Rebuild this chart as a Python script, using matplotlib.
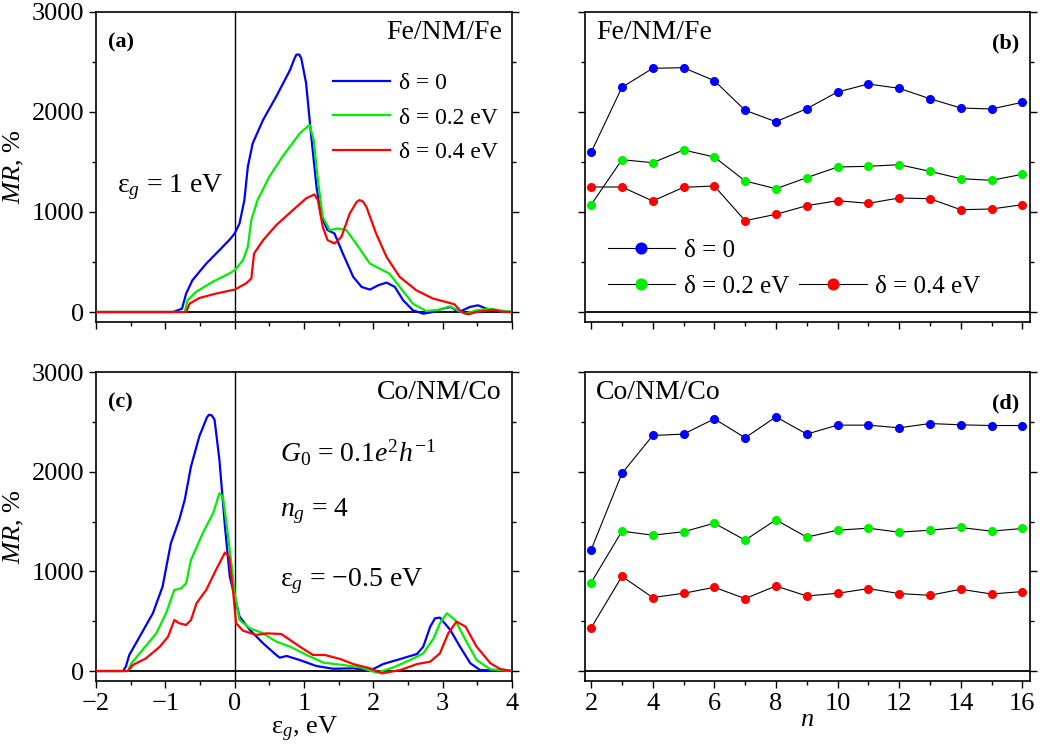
import numpy as np
import matplotlib
matplotlib.use("Agg")
import matplotlib.pyplot as plt
from matplotlib.lines import Line2D

plt.rcParams['font.family'] = ['Liberation Serif', 'DejaVu Serif']
plt.rcParams['mathtext.fontset'] = 'custom'
plt.rcParams['mathtext.rm'] = 'Liberation Serif'
plt.rcParams['mathtext.it'] = 'Liberation Serif:italic'

BLUE, GREEN, RED = '#0000ff', '#00ee00', '#ff0000'
labels = ['δ = 0', 'δ = 0.2 eV', 'δ = 0.4 eV']

# ---- (a) Fe/NM/Fe, MR vs eps_g ----
a_blue_x = [-2, -0.89, -0.76, -0.70, -0.61, -0.41, -0.22, -0.08, 0, 0.07, 0.14, 0.19, 0.26, 0.41, 0.60,
            0.80, 0.86, 0.89, 0.93, 0.96, 1.03, 1.10, 1.18, 1.25, 1.34, 1.44, 1.56, 1.71, 1.83, 1.95, 2.07, 2.19,
            2.31, 2.43, 2.57, 2.72, 2.86, 3.0, 3.12, 3.22, 3.29, 3.39, 3.51, 3.63, 3.78, 4]
a_blue_y = [0, 0, 33, 184, 317, 484, 618, 718, 785, 885, 1119, 1453, 1687, 1921, 2155,
            2422, 2530, 2573, 2575, 2539, 2289, 1787, 1253, 952, 819, 785, 585, 351, 251, 224, 267, 294,
            251, 117, 17, -17, 0, 33, 50, 0, 17, 50, 67, 33, 10, 0]
a_green_x = [-2, -0.72, -0.68, -0.56, -0.32, -0.08, 0, 0.12, 0.19, 0.24, 0.33, 0.50, 0.69, 0.94, 1.08,
             1.14, 1.20, 1.27, 1.37, 1.49, 1.61, 1.75, 1.95, 2.09, 2.23, 2.38, 2.57, 2.76, 2.96, 3.10,
             3.22, 3.32, 3.49, 3.68, 3.82, 4]
a_green_y = [0, 0, 117, 200, 301, 384, 418, 518, 652, 919, 1119, 1353, 1554, 1787, 1871,
             1721, 1320, 952, 819, 835, 819, 685, 484, 434, 384, 251, 84, 10, 23, 57,
             17, -17, 17, 33, 17, 0]
a_red_x = [-2, -0.70, -0.65, -0.51, -0.27, 0, 0.16, 0.24, 0.28, 0.41, 0.60, 0.84, 1.03, 1.15, 1.20,
           1.27, 1.34, 1.44, 1.54, 1.66, 1.76, 1.80, 1.85, 1.90, 2.04, 2.19, 2.38, 2.62, 2.86, 3.05, 3.17, 3.27,
           3.37, 3.49, 3.73, 3.87, 4]
a_red_y = [0, 0, 84, 140, 184, 224, 284, 334, 585, 718, 869, 1019, 1136, 1176, 1119,
           852, 718, 685, 752, 986, 1100, 1119, 1105, 1052, 785, 551, 351, 217, 134, 100, 77, 0,
           -23, 0, 23, 0, 0]

# ---- (c) Co/NM/Co, MR vs eps_g ----
c_blue_x = [-2, -1.61, -1.57, -1.52, -1.37, -1.18, -1.04, -0.92, -0.80, -0.72, -0.63, -0.51, -0.40, -0.37, -0.33,
            -0.29, -0.22, -0.14, -0.07, 0, 0.07, 0.22, 0.41, 0.60, 0.65, 0.75, 0.94, 1.18, 1.42, 1.71, 1.95,
            2.02, 2.14, 2.39, 2.63, 2.72, 2.82, 2.89, 2.96, 3.11, 3.25, 3.40, 3.54, 4]
c_blue_y = [0, 0, 44, 161, 345, 579, 847, 1282, 1517, 1718, 2052, 2354, 2545, 2571, 2565,
            2521, 2119, 1450, 947, 747, 546, 412, 278, 161, 134, 151, 110, 50, 23, 27, 10,
            27, 70, 121, 171, 244, 445, 529, 536, 412, 244, 77, 10, 0]
c_green_x = [-2, -1.54, -1.49, -1.33, -1.13, -0.99, -0.87, -0.77, -0.70, -0.63, -0.46, -0.31, -0.22, -0.17,
             -0.10, -0.02, 0, 0.07, 0.22, 0.41, 0.60, 0.80, 1.04, 1.28, 1.57, 1.81, 2.05, 2.29, 2.53,
             2.72, 2.87, 2.96, 3.06, 3.18, 3.33, 3.49, 3.69, 4]
c_green_y = [0, 0, 77, 211, 378, 579, 814, 830, 880, 1115, 1383, 1584, 1784, 1751,
             1383, 914, 780, 512, 429, 378, 295, 244, 161, 84, 60, 37, -17, 37, 110,
             177, 328, 479, 579, 512, 311, 110, 17, 0]
c_red_x = [-2, -1.54, -1.47, -1.28, -1.08, -0.96, -0.87, -0.80, -0.70, -0.63, -0.55, -0.41, -0.27, -0.14,
           -0.08, -0.02, 0.02, 0.12, 0.31, 0.46, 0.67, 0.80, 0.94, 1.13, 1.30, 1.52, 1.71, 1.95, 2.12,
           2.39, 2.63, 2.82, 2.96, 3.08, 3.20, 3.33, 3.49, 3.69, 3.83, 4]
c_red_y = [0, 0, 60, 127, 244, 345, 512, 479, 462, 512, 680, 814, 1014, 1189,
           1148, 780, 479, 405, 362, 378, 372, 311, 244, 161, 161, 121, 70, 27, -23,
           10, 70, 94, 177, 378, 496, 445, 244, 77, 20, 0]

# ---- (b), (d) MR vs n ----
n = np.arange(2, 17)
b_blue = [1597, 2247, 2437, 2443, 2313, 2017, 1903, 2033, 2200, 2280, 2237, 2133, 2040, 2030, 2097]
b_green = [1073, 1523, 1493, 1620, 1550, 1310, 1233, 1343, 1450, 1457, 1473, 1407, 1333, 1317, 1377]
b_red = [1250, 1250, 1110, 1247, 1260, 913, 977, 1063, 1113, 1087, 1140, 1133, 1023, 1030, 1073]
d_blue = [1217, 1983, 2363, 2377, 2530, 2340, 2550, 2377, 2467, 2467, 2440, 2483, 2470, 2463, 2463]
d_green = [887, 1403, 1363, 1397, 1483, 1313, 1517, 1343, 1413, 1433, 1393, 1413, 1440, 1403, 1430]
d_red = [433, 950, 737, 780, 840, 727, 853, 753, 780, 827, 777, 760, 820, 773, 797]

fig = plt.figure(figsize=(10.47, 7.54), dpi=100)
W, H = 1047, 754
def box(l, r, t, b):
    return [l / W, 1 - b / H, (r - l) / W, (b - t) / H]

ax_a = fig.add_axes(box(96, 512, 12, 322))
ax_b = fig.add_axes(box(585, 1030, 12, 322))
ax_c = fig.add_axes(box(96, 512, 372, 681))
ax_d = fig.add_axes(box(585, 1030, 372, 681))

FS = 19

def style(ax, left):
    ax.set_ylim(-100, 3000)
    ax.set_yticks([0, 1000, 2000, 3000])
    ax.set_yticks([500, 1500, 2500], minor=True)
    ax.tick_params(which='both', direction='out', top=False, right=True, labelsize=FS, width=1)
    ax.tick_params(which='major', length=5)
    ax.tick_params(which='minor', length=3)
    ax.axhline(0, color='black', lw=1.3, zorder=1)
    if not left:
        ax.tick_params(labelleft=False)
    for s in ax.spines.values():
        s.set_linewidth(1.2)

for ax, curves in [(ax_a, [(a_blue_x, a_blue_y), (a_green_x, a_green_y), (a_red_x, a_red_y)]),
                   (ax_c, [(c_blue_x, c_blue_y), (c_green_x, c_green_y), (c_red_x, c_red_y)])]:
    style(ax, True)
    ax.axvline(0, color='black', lw=1.0, zorder=1)
    for (x, y), col, lab in zip(curves, [BLUE, GREEN, RED], labels):
        ax.plot(x, y, color=col, lw=1.6, label=lab, zorder=3, solid_joinstyle='round')
    ax.set_xlim(-2, 4)
    ax.set_xticks(range(-2, 5))
    ax.set_xticks(np.arange(-1.5, 4, 1), minor=True)
    ax.set_ylabel('$MR$, %', fontsize=FS, labelpad=4)

for ax, series in [(ax_b, [b_blue, b_green, b_red]), (ax_d, [d_blue, d_green, d_red])]:
    style(ax, False)
    for vals, col, lab in zip(series, [BLUE, GREEN, RED], labels):
        ax.plot(n, vals, color='black', lw=0.8, marker='o', ms=5.5, mfc=col, mec=col, label=lab, zorder=3)
    ax.set_xlim(1.8, 16.25)
    ax.set_xticks(range(2, 17, 2))
    ax.set_xticks(range(3, 17, 2), minor=True)

ax_a.tick_params(labelbottom=False)
ax_b.tick_params(labelbottom=False)
ax_c.set_xticklabels(['\u22122', '\u22121', '0', '1', '2', '3', '4'])
ax_c.set_xlabel('ε$_g$, eV', fontsize=FS, labelpad=0)
ax_d.set_xlabel('$n$', fontsize=FS, labelpad=-4)

# panel labels and annotations
for ax, t in [(ax_a, '(a)'), (ax_c, '(c)')]:
    ax.text(0.028, 0.935, t, transform=ax.transAxes, fontsize=16, fontweight='bold', va='top')
for ax, t in [(ax_b, '(b)'), (ax_d, '(d)')]:
    ax.text(0.975, 0.93, t, transform=ax.transAxes, fontsize=16, fontweight='bold', ha='right', va='top')
FS2 = 20
ax_a.text(0.975, 0.975, 'Fe/NM/Fe', transform=ax_a.transAxes, fontsize=FS2, ha='right', va='top')
ax_c.text(0.975, 0.975, 'Co/NM/Co', transform=ax_c.transAxes, fontsize=FS2, ha='right', va='top')
ax_b.text(0.025, 0.975, 'Fe/NM/Fe', transform=ax_b.transAxes, fontsize=FS2, ha='left', va='top')
ax_d.text(0.025, 0.975, 'Co/NM/Co', transform=ax_d.transAxes, fontsize=FS2, ha='left', va='top')

ax_a.text(-1.7, 1200, 'ε$_g$ = 1 eV', fontsize=FS2)
ax_c.text(0.65, 2100, '$G_0$ = 0.1$e^2h^{\u22121}$', fontsize=FS2)
ax_c.text(0.65, 1550, '$n_g$ = 4', fontsize=FS2)
ax_c.text(0.65, 850, 'ε$_g$ = \u22120.5 eV', fontsize=FS2)

ax_a.legend(loc='upper right', bbox_to_anchor=(1.0, 0.85), frameon=False, fontsize=17,
            handlelength=2.4, handletextpad=0.4, labelspacing=0.55, borderaxespad=0.2)

# legend of (b): row 1 = delta 0, row 2 = delta 0.2 and 0.4
h, l = ax_b.get_legend_handles_labels()
blank = Line2D([], [], linestyle='none', marker=None)
ax_b.legend([h[0], h[1], blank, h[2]], [l[0], l[1], '', l[2]], loc='lower left',
            bbox_to_anchor=(0.0, 0.005), ncol=2, frameon=False, fontsize=18,
            handlelength=2.7, handletextpad=0.35, labelspacing=0.55, columnspacing=0.4, markerscale=1.4)

fig.savefig('out.png', dpi=100)
